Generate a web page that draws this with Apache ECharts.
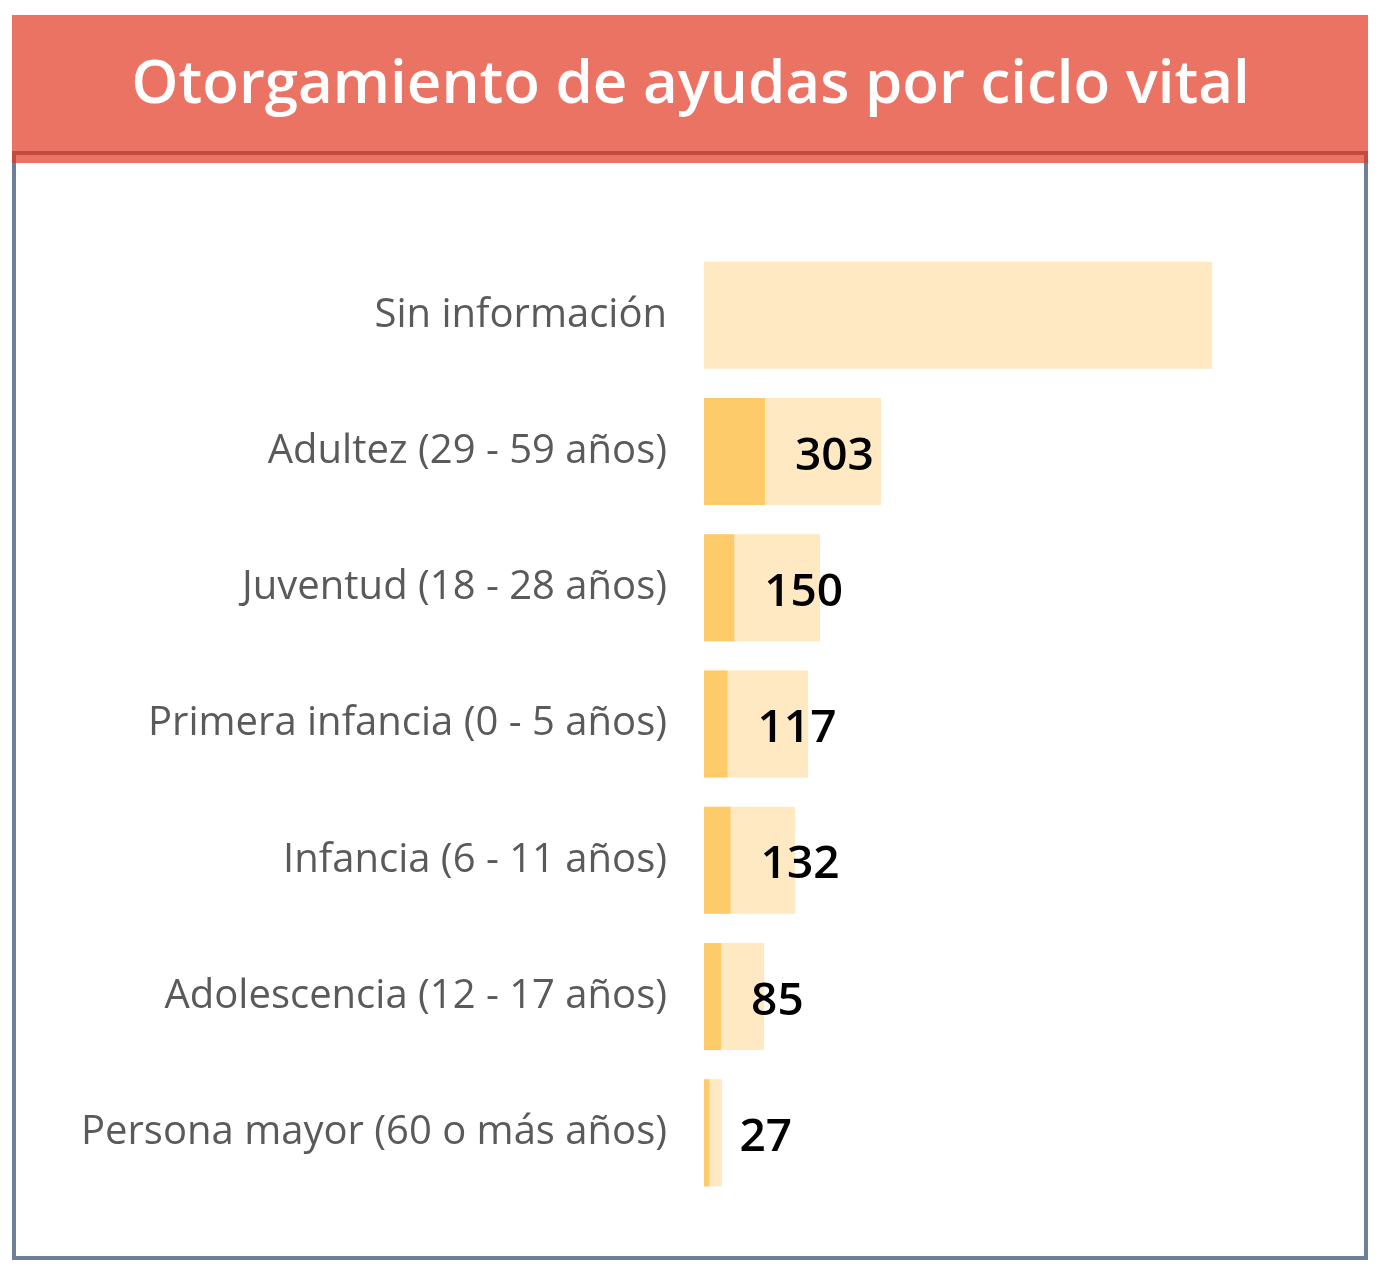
<!DOCTYPE html>
<html>
<head>
	<meta charset="utf-8">
	<title>Otorgamiento de ayudas por ciclo vital</title>
	<script type="text/javascript" src="https://cdn.jsdelivr.net/npm/echarts@6/dist/echarts.min.js"></script>
	<style>
		html, body { margin: 0; padding: 0; background: #fff; }
	</style>
</head>

<body>
	<div style="height: 1266px; width: 1381px" id="ciclo"></div>

	<script type="text/javascript">
		// datos
		var categorias = ['Sin información', 'Adultez (29 - 59 años)', 'Juventud (18 - 28 años)',
			'Primera infancia (0 - 5 años)', 'Infancia (6 - 11 años)', 'Adolescencia (12 - 17 años)',
			'Persona mayor (60 o más años)'];
		var otorgadas = [0, 303, 150, 117, 132, 85, 27];
		var solicitadas = [2524, 879, 576, 517, 452, 298, 89];

		var chart = echarts.init(document.getElementById('ciclo'));
		var fuente = '"Open Sans", "Noto Sans", sans-serif';

		var option = {
			backgroundColor: '#fff',
			animation: false,
			title: {
				text: 'Otorgamiento de ayudas por ciclo vital',
				left: 'center',
				top: 51,
				textStyle: {
					color: '#fff',
					fontSize: 60,
					fontWeight: 600,
					fontFamily: fuente
				}
			},
			graphic: [
				{ type: 'rect', z: -10, shape: { x: 14, y: 153, width: 1352, height: 1105 },
				  style: { fill: 'none', stroke: '#6E7F99', lineWidth: 4 } },
				{ type: 'rect', z: -5, shape: { x: 12, y: 15, width: 1356, height: 148 },
				  style: { fill: '#EB7363' } },
				{ type: 'rect', z: -4, shape: { x: 12, y: 151, width: 1356, height: 4 },
				  style: { fill: '#C24A41' } },
				{ type: 'rect', z: -4, shape: { x: 12, y: 151, width: 4, height: 12 },
				  style: { fill: '#C24A41' } },
				{ type: 'rect', z: -4, shape: { x: 1364, y: 151, width: 4, height: 12 },
				  style: { fill: '#C24A41' } }
			],
			grid: {
				left: 704,
				top: 247,
				width: 604,
				height: 954
			},
			xAxis: {
				type: 'value',
				min: 0,
				max: 3000,
				show: false
			},
			yAxis: {
				type: 'category',
				data: categorias,
				inverse: true,
				axisLine: { show: false },
				axisTick: { show: false },
				splitLine: { show: false },
				axisLabel: {
					margin: 37,
					color: '#5A5A5A',
					fontSize: 40,
					fontFamily: fuente,
					padding: [6, 0, 0, 0]
				}
			},
			series: [
				{
					name: 'Solicitadas',
					type: 'bar',
					barWidth: 107,
					data: solicitadas,
					itemStyle: { color: '#FEE9C2' },
					silent: true
				},
				{
					name: 'Otorgadas',
					type: 'bar',
					barWidth: 107,
					barGap: '-100%',
					data: otorgadas,
					itemStyle: { color: '#FDCB69' },
					label: {
						show: true,
						position: 'right',
						distance: 30,
						offset: [0, 5],
						color: '#000',
						fontSize: 46,
						fontWeight: 600,
						fontFamily: fuente,
						formatter: function (p) {
							return p.value ? String(p.value) : '';
						}
					}
				}
			]
		};

		chart.setOption(option);
	</script>
</body>
</html>
